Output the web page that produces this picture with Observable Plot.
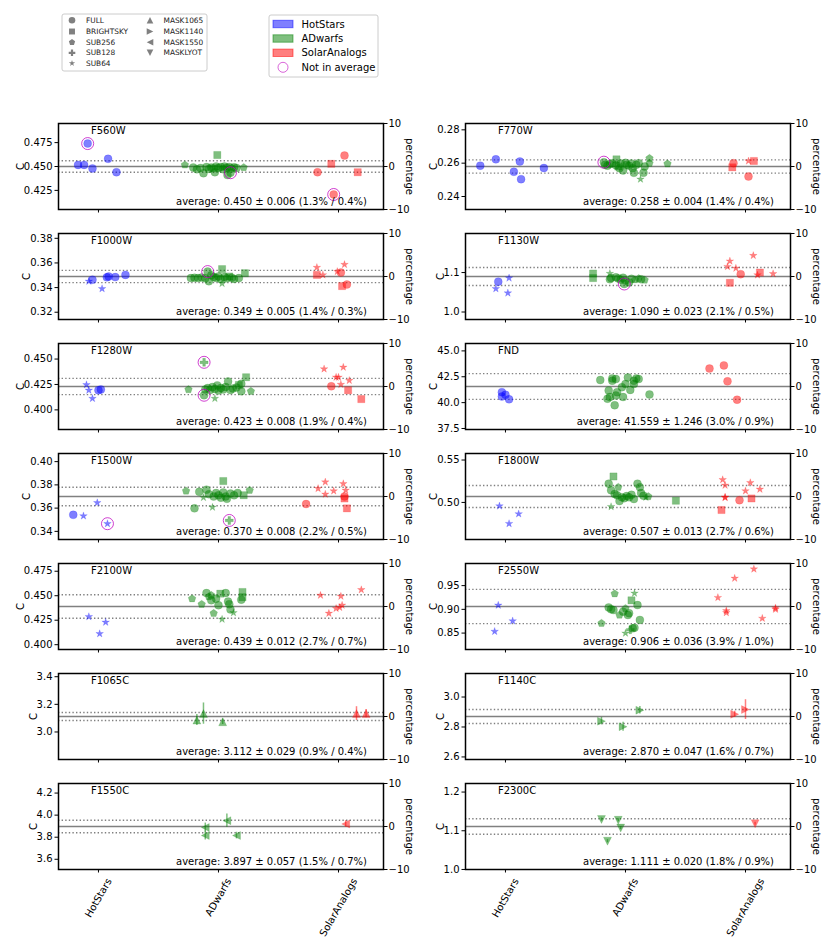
<!DOCTYPE html>
<html><head><meta charset="utf-8">
<script src="https://cdn.jsdelivr.net/npm/d3@7"></script>
<script src="https://cdn.jsdelivr.net/npm/@observablehq/plot@0.6"></script>
<style>
body{margin:0;background:#fff;}
#fig{position:relative;width:830px;height:949px;font-family:"DejaVu Sans";}
#fig svg{position:absolute;overflow:visible;}
</style></head><body><div id="fig"></div>
<script>
// ---------------- data ----------------
const categories = ["HotStars", "ADwarfs", "SolarAnalogs"];
const groupCodes = ["H", "A", "S"];
const groupColors = ["#0000ff", "#008000", "#ff0000"];
const markerCodes = ["o", "s", "p", "+", "*", "^", ">", "<", "v"];
const markerNames = ["FULL", "BRIGHTSKY", "SUB256", "SUB128", "SUB64", "MASK1065", "MASK1140", "MASK1550", "MASKLYOT"];
const filters = ["F560W","F770W","F1000W","F1130W","F1280W","FND","F1500W","F1800W","F2100W","F2550W","F1065C","F1140C","F1550C","F2300C"];
const averages = [0.450,0.258,0.349,1.090,0.423,41.559,0.370,0.507,0.439,0.906,3.112,2.870,3.897,1.111];
const stdevs   = [0.006,0.004,0.005,0.023,0.008,1.246,0.008,0.013,0.012,0.036,0.029,0.047,0.057,0.020];
const pctStd   = [1.3,1.4,1.4,2.1,1.9,3.0,2.2,2.7,2.7,3.9,0.9,1.6,1.5,1.8];
const pctUnc   = [0.4,0.4,0.3,0.5,0.4,0.9,0.5,0.6,0.7,1.0,0.4,0.7,0.7,0.9];
const yTickLabels = [
  ["0.425","0.450","0.475"], ["0.24","0.26","0.28"], ["0.32","0.34","0.36","0.38"], ["1.0","1.1"],
  ["0.400","0.425","0.450"], ["37.5","40.0","42.5","45.0"], ["0.34","0.36","0.38","0.40"], ["0.50","0.55"],
  ["0.400","0.425","0.450","0.475"], ["0.85","0.90","0.95"], ["3.0","3.2","3.4"], ["2.6","2.8","3.0"],
  ["3.6","3.8","4.0","4.2"], ["1.0","1.1","1.2"]
];
const pctTicks = [-10, 0, 10];
const legendNotInAvg = "Not in average";

// points: [group, offset from category, C, marker, excluded, error]
const pF560W = [
 ["H",-0.17,0.4517,"o"],["H",-0.12,0.4517,"o"],["H",-0.09,0.474,"o",1],["H",-0.05,0.448,"o"],["H",0.08,0.458,"o"],["H",0.15,0.444,"o"],
 ["A",-0.28,0.4517,"p"],["A",-0.21,0.4490,"o"],["A",-0.18,0.4470,"o"],["A",-0.15,0.4485,"o"],["A",-0.125,0.4430,"o"],["A",-0.1,0.4495,"o"],
 ["A",-0.08,0.4475,"o"],["A",-0.06,0.4490,"o"],["A",-0.04,0.4480,"s"],["A",-0.02,0.4500,"o"],["A",-0.01,0.4620,"s"],["A",0.0,0.4485,"o"],
 ["A",0.02,0.4495,"o"],["A",0.04,0.4470,"o"],["A",0.05,0.4500,"o"],["A",0.07,0.4488,"o"],["A",0.075,0.4410,"o"],["A",0.1,0.4435,"o",1],
 ["A",0.09,0.4495,"o"],["A",0.11,0.4480,"o"],["A",0.13,0.4492,"o"],["A",0.15,0.4485,"o"],["A",0.21,0.4490,"p"],["A",-0.03,0.4440,"o"],
 ["S",-0.175,0.444,"o"],["S",-0.06,0.4528,"s"],["S",0.05,0.4614,"o"],["S",-0.04,0.4207,"o",1],["S",0.16,0.444,"s"]
];
const pF770W = [
 ["H",-0.21,0.2585,"o"],["H",-0.08,0.2623,"o"],["H",0.07,0.2548,"o"],["H",0.12,0.2610,"o"],["H",0.13,0.2504,"o"],["H",0.32,0.2571,"o"],
 ["A",-0.18,0.2606,"o",1],["A",-0.17,0.2590,"o"],["A",-0.15,0.2585,"o"],["A",-0.13,0.2595,"o"],["A",-0.11,0.2600,"o"],["A",-0.075,0.2623,"s"],
 ["A",-0.08,0.2588,"o"],["A",-0.06,0.2580,"s"],["A",-0.04,0.2598,"o"],["A",-0.02,0.2556,"o"],["A",0.0,0.2602,"o"],["A",0.01,0.2590,"o"],
 ["A",0.03,0.2585,"o"],["A",0.05,0.2598,"o"],["A",0.06,0.2570,"o"],["A",0.07,0.2542,"o"],["A",0.09,0.2590,"o"],["A",0.11,0.2600,"o"],
 ["A",0.125,0.2504,"*"],["A",0.15,0.2542,"o"],["A",0.16,0.2580,"o"],["A",0.2,0.2629,"p"],["A",0.2,0.2600,"p"],["A",0.35,0.2596,"p"],["A",-0.05,0.2570,"o"],
 ["S",-0.11,0.2575,"s"],["S",-0.1,0.2600,"o"],["S",0.025,0.2520,"o"],["S",0.025,0.2613,"*"],["S",0.07,0.2613,"s"]
];
const pF1000W = [
 ["H",-0.08,0.3451,"*"],["H",-0.05,0.3464,"o"],["H",0.03,0.3391,"*"],["H",0.07,0.3483,"o"],["H",0.085,0.3490,"o"],["H",0.14,0.3485,"o"],["H",0.225,0.3503,"o"],
 ["A",-0.23,0.3477,"o"],["A",-0.2,0.3480,"o"],["A",-0.17,0.3477,"o"],["A",-0.14,0.3482,"o"],["A",-0.11,0.3475,"o"],["A",-0.09,0.3530,"o",1],
 ["A",-0.08,0.3451,"o"],["A",-0.06,0.3500,"o"],["A",-0.04,0.3485,"o"],["A",-0.02,0.3478,"o"],["A",0.0,0.3490,"o"],["A",0.02,0.3470,"o"],
 ["A",0.03,0.3550,"s"],["A",0.03,0.3433,"*"],["A",0.05,0.3485,"o"],["A",0.07,0.3475,"o"],["A",0.09,0.3490,"s"],["A",0.11,0.3480,"o"],
 ["A",0.13,0.3470,"o"],["A",0.17,0.3477,"o"],["A",0.22,0.3517,"s"],
 ["S",-0.18,0.3563,"*"],["S",-0.18,0.3503,"s"],["S",-0.13,0.3503,"*"],["S",0.02,0.3522,"o"],["S",-0.01,0.3530,"*"],["S",0.05,0.3587,"*"],["S",0.03,0.3412,"s"],["S",0.07,0.3425,"o"]
];
const pF1130W = [
 ["H",-0.06,1.077,"o"],["H",-0.08,1.059,"*"],["H",0.02,1.048,"*"],["H",0.03,1.086,"*"],
 ["A",-0.27,1.0975,"s"],["A",-0.27,1.086,"s"],["A",-0.13,1.0975,"*"],["A",-0.13,1.083,"o"],["A",-0.12,1.086,"o"],["A",-0.08,1.088,"o"],
 ["A",-0.06,1.085,"o"],["A",-0.04,1.082,"o"],["A",-0.02,1.087,"o"],["A",-0.01,1.071,"o",1],["A",0.0,1.080,"o"],["A",0.03,1.075,"o"],
 ["A",0.05,1.084,"o"],["A",0.08,1.082,"p"],["A",0.11,1.085,"p"],["A",0.13,1.083,"o"],["A",0.16,1.081,"p"],
 ["S",-0.15,1.115,"*"],["S",-0.13,1.129,"*"],["S",-0.08,1.111,"*"],["S",-0.13,1.074,"s"],["S",-0.04,1.096,"o"],["S",0.065,1.143,"*"],
 ["S",0.12,1.100,"s"],["S",0.1,1.094,"*"],["S",0.23,1.097,"*"]
];
const pF1280W = [
 ["H",-0.1,0.4247,"*"],["H",-0.08,0.4193,"*"],["H",-0.05,0.4112,"*"],["H",0.0,0.4193,"o"],["H",0.02,0.4200,"o"],
 ["A",-0.25,0.4200,"p"],["A",-0.12,0.4468,"+",1],["A",-0.12,0.4144,"o",1],["A",-0.11,0.4200,"o"],["A",-0.09,0.4215,"o"],["A",-0.07,0.4195,"o"],
 ["A",-0.05,0.4225,"o"],["A",-0.03,0.4112,"*"],["A",-0.03,0.4205,"o"],["A",-0.01,0.4240,"o"],["A",0.0,0.4190,"o"],["A",0.02,0.4215,"o"],
 ["A",0.04,0.4200,"o"],["A",0.06,0.4225,"o"],["A",0.08,0.4280,"o"],["A",0.1,0.4195,"o"],["A",0.12,0.4210,"o"],["A",0.15,0.4220,"o"],
 ["A",0.17,0.4245,"s"],["A",0.19,0.4256,"o"],["A",0.19,0.4183,"o"],["A",0.23,0.4321,"s"],["A",0.27,0.4183,"p"],
 ["S",-0.12,0.4403,"*"],["S",-0.06,0.4232,"o"],["S",-0.02,0.4321,"*"],["S",0.0,0.4321,"*"],["S",0.04,0.4419,"*"],["S",0.02,0.4250,"*"],
 ["S",0.09,0.4289,"*"],["S",0.08,0.4193,"s"],["S",0.19,0.4106,"s"]
];
const pFND = [
 ["H",-0.03,41.01,"o"],["H",-0.03,40.60,"o"],["H",0.0,40.76,"o"],["H",0.03,40.32,"o"],
 ["A",-0.21,42.18,"o"],["A",-0.15,40.38,"o"],["A",-0.14,41.17,"o"],["A",-0.13,40.54,"o"],["A",-0.11,42.34,"o"],["A",-0.11,42.12,"o"],
 ["A",-0.09,39.75,"o"],["A",-0.08,40.70,"o"],["A",-0.07,41.01,"o"],["A",-0.03,41.49,"o"],["A",-0.02,40.54,"o"],["A",0.0,41.80,"o"],
 ["A",0.02,42.43,"o"],["A",0.04,41.23,"o"],["A",0.07,42.12,"o"],["A",0.09,42.34,"o"],["A",0.11,42.28,"o"],["A",0.2,40.79,"o"],
 ["A",-0.08,42.28,"o"],["A",0.07,41.80,"o"],
 ["S",-0.3,43.29,"o"],["S",-0.18,43.60,"o"],["S",-0.15,42.06,"o"],["S",-0.07,40.28,"o"]
];
const pF1500W = [
 ["H",-0.21,0.3542,"o"],["H",-0.125,0.3533,"*"],["H",-0.01,0.3646,"*"],["H",0.075,0.3466,"*",1],
 ["A",-0.27,0.3748,"p"],["A",-0.2,0.3598,"o"],["A",-0.16,0.3740,"o"],["A",-0.125,0.3691,"*"],["A",-0.1,0.3759,"o"],["A",-0.08,0.3720,"o"],
 ["A",-0.05,0.3607,"*"],["A",-0.04,0.3700,"o"],["A",-0.02,0.3730,"o"],["A",0.0,0.3710,"o"],["A",0.02,0.3690,"o"],["A",0.04,0.3833,"s"],
 ["A",0.04,0.3735,"o"],["A",0.06,0.3700,"o"],["A",0.07,0.3680,"o"],["A",0.09,0.3494,"+",1],["A",0.1,0.3725,"o"],["A",0.13,0.3710,"o"],
 ["A",0.16,0.3730,"o"],["A",0.21,0.3711,"s"],["A",0.26,0.3754,"p"],
 ["S",-0.27,0.3635,"o"],["S",-0.17,0.3768,"*"],["S",-0.11,0.3824,"*"],["S",-0.11,0.3720,"*"],["S",-0.04,0.3748,"*"],["S",0.04,0.3810,"*"],
 ["S",0.06,0.3754,"*"],["S",0.05,0.3683,"s"],["S",0.07,0.3598,"s"],["S",0.05,0.3700,"o"]
];
const pF1800W = [
 ["H",-0.05,0.4958,"*"],["H",0.03,0.4750,"*"],["H",0.11,0.4865,"*"],
 ["A",-0.14,0.5221,"o"],["A",-0.12,0.4950,"*"],["A",-0.12,0.5144,"o"],["A",-0.1,0.5306,"s"],["A",-0.09,0.5100,"o"],["A",-0.07,0.5085,"o"],
 ["A",-0.06,0.5180,"p"],["A",-0.05,0.5016,"o"],["A",-0.03,0.5060,"o"],["A",-0.01,0.5050,"o"],["A",0.01,0.5075,"o"],["A",0.03,0.5060,"o"],
 ["A",0.05,0.5090,"o"],["A",0.07,0.5040,"o"],["A",0.1,0.5221,"o"],["A",0.12,0.5180,"o"],["A",0.13,0.5110,"o"],["A",0.15,0.5080,"o"],
 ["A",0.17,0.5060,"*"],["A",0.19,0.5070,"p"],["A",0.42,0.5020,"s"],
 ["S",-0.19,0.5268,"*"],["S",-0.17,0.5202,"*"],["S",-0.2,0.4911,"s"],["S",-0.17,0.5058,"*"],["S",-0.17,0.5060,"*"],["S",-0.05,0.5027,"o"],
 ["S",0.0,0.5136,"*"],["S",0.04,0.5233,"*"],["S",0.05,0.5047,"s"],["S",0.12,0.5155,"*"]
];
const pF2100W = [
 ["H",-0.08,0.4286,"*"],["H",0.01,0.4112,"*"],["H",0.06,0.4229,"*"],
 ["A",-0.22,0.4470,"p"],["A",-0.14,0.4413,"p"],["A",-0.1,0.4527,"o"],["A",-0.08,0.4490,"p"],["A",-0.06,0.4504,"p"],["A",-0.06,0.4454,"o"],
 ["A",-0.04,0.4320,"p"],["A",-0.02,0.4470,"o"],["A",0.0,0.4403,"o"],["A",0.015,0.4521,"s"],["A",0.03,0.4259,"*"],["A",0.06,0.4527,"o"],
 ["A",0.08,0.4440,"o"],["A",0.09,0.4413,"o"],["A",0.1,0.4360,"o"],["A",0.125,0.4326,"*"],["A",0.19,0.4460,"o"],["A",0.2,0.4538,"s"],["A",0.2,0.4485,"s"],
 ["S",-0.15,0.4504,"*"],["S",-0.08,0.4320,"*"],["S",-0.02,0.4370,"*"],["S",0.01,0.4380,"*"],["S",0.02,0.4494,"*"],["S",0.03,0.4403,"*"],["S",0.19,0.4561,"*"]
];
const pF2550W = [
 ["H",-0.09,0.8535,"*"],["H",-0.06,0.9087,"*"],["H",0.06,0.8756,"*"],
 ["A",-0.2,0.8707,"p"],["A",-0.14,0.9040,"o"],["A",-0.12,0.9000,"o"],["A",-0.1,0.8984,"o"],["A",-0.09,0.9330,"p"],["A",-0.05,0.8880,"p"],
 ["A",-0.02,0.8950,"o"],["A",0.0,0.8498,"*"],["A",0.0,0.9020,"p"],["A",0.02,0.8880,"o"],["A",0.04,0.8570,"+"],["A",0.05,0.9190,"s"],
 ["A",0.06,0.8600,"o"],["A",0.075,0.9340,"*"],["A",0.075,0.8610,"o"],["A",0.1,0.9090,"o"],["A",0.12,0.8777,"o"],["A",0.03,0.8920,"o"],
 ["S",-0.23,0.9247,"*"],["S",-0.09,0.9654,"*"],["S",-0.16,0.8970,"*"],["S",-0.16,0.8930,"*"],["S",0.07,0.9848,"*"],["S",0.14,0.8810,"*"],
 ["S",0.25,0.9000,"*"],["S",0.25,0.9030,"*"]
];
const pF1065C = [
 ["A",-0.18,3.086,"^",0,0.040],["A",-0.125,3.133,"^",0,0.077],["A",0.035,3.074,"^",0,0.020],
 ["S",0.15,3.133,"^",0,0.050],["S",0.23,3.133,"^",0,0.030]
];
const pF1140C = [
 ["A",-0.2,2.839,">",0,0.025],["A",-0.02,2.802,">",0,0.030],["A",0.12,2.912,">",0,0.025],
 ["S",-0.09,2.885,">",0,0.020],["S",0.0,2.916,">",0,0.066]
];
const pF1550C = [
 ["A",-0.11,3.888,"<",0,0.040],["A",-0.11,3.815,"<",0,0.040],["A",0.07,3.950,"<",0,0.060],["A",0.15,3.815,"<",0,0.030],
 ["S",0.06,3.920,"<",0,0.030]
];
const pF2300C = [
 ["A",-0.2,1.129,"v",0,0.004],["A",-0.15,1.073,"v",0,0.004],["A",-0.06,1.127,"v",0,0.004],["A",-0.04,1.107,"v",0,0.004],
 ["S",0.08,1.118,"v",0,0.004]
];
const panelPoints = [pF560W,pF770W,pF1000W,pF1130W,pF1280W,pFND,pF1500W,pF1800W,pF2100W,pF2550W,pF1065C,pF1140C,pF1550C,pF2300C];

// ---------------- symbols ----------------
function poly(pts) {
  return {draw(ctx, size) {
    const h = Math.sqrt(size / Math.PI);
    pts.forEach(([a, b], i) => i ? ctx.lineTo(a * h, b * h) : ctx.moveTo(a * h, b * h));
    ctx.closePath();
  }};
}
function regular(n, inner) {
  const pts = [];
  const m = inner ? 2 * n : n;
  for (let i = 0; i < m; i++) {
    const t = -Math.PI / 2 + i * Math.PI * 2 / m;
    const rr = inner && (i % 2) ? inner : 1;
    pts.push([rr * Math.cos(t), rr * Math.sin(t)]);
  }
  return pts;
}
const q = 1 / 3;
const SYM = {
  "o": "circle",
  "s": poly([[-0.9,-0.9],[0.9,-0.9],[0.9,0.9],[-0.9,0.9]]),
  "p": poly(regular(5)),
  "+": poly([[-q,-1],[q,-1],[q,-q],[1,-q],[1,q],[q,q],[q,1],[-q,1],[-q,q],[-1,q],[-1,-q],[-q,-q]]),
  "*": poly(regular(5, 0.381966)),
  "^": poly([[0,-1],[1,1],[-1,1]]),
  ">": poly([[1,0],[-1,-1],[-1,1]]),
  "<": poly([[-1,0],[1,-1],[1,1]]),
  "v": poly([[0,1],[1,-1],[-1,-1]])
};

// ---------------- helpers ----------------
const mctx = document.createElement("canvas").getContext("2d");
mctx.font = "10px 'DejaVu Sans'";
const tw = s => mctx.measureText(s).width;
const fig = document.getElementById("fig");
const ringColor = "#c000c0";

// ---------------- panels ----------------
filters.forEach((name, i) => {
  const row = Math.floor(i / 2), col = i % 2;
  const bottomRow = row === 6;
  const avg = averages[i], sd = stdevs[i];
  const lo = avg * 0.9, hi = avg * 1.1;
  const rows = panelPoints[i].map(([g, dx, c, m, ex, err]) => ({g, x: groupCodes.indexOf(g) + dx, c, m, ex: !!ex, err: err || 0}));
  const labels = yTickLabels[i];
  const maxW = d3.max(labels, tw);
  const H = bottomRow ? 200 : 110;
  const marks = [
    Plot.ruleY([avg], {stroke: "#808080", strokeWidth: 1.6}),
    Plot.ruleY([avg - sd, avg + sd], {stroke: "#808080", strokeWidth: 1.4, strokeDasharray: "1.4,2.2"})
  ];
  groupCodes.forEach((g, gi) => {
    const er = rows.filter(d => d.g === g && d.err > 0);
    if (er.length) marks.push(Plot.ruleX(er, {x: "x", y1: d => d.c - d.err, y2: d => d.c + d.err, stroke: groupColors[gi], strokeOpacity: 0.5, strokeWidth: 1.5}));
    markerCodes.forEach(mk => {
      const sub = rows.filter(d => d.g === g && d.m === mk);
      if (sub.length) marks.push(Plot.dot(sub, {x: "x", y: "c", r: 4, symbol: SYM[mk], fill: groupColors[gi], fillOpacity: 0.5, stroke: groupColors[gi], strokeOpacity: 0.25, strokeWidth: 0.6}));
    });
  });
  const exr = rows.filter(d => d.ex);
  if (exr.length) marks.push(Plot.dot(exr, {x: "x", y: "c", r: 6, fill: "none", stroke: ringColor, strokeOpacity: 0.75, strokeWidth: 1}));
  marks.push(
    Plot.frame({stroke: "black", strokeWidth: 1.5}),
    Plot.axisY({anchor: "left", ticks: labels.map(Number), tickFormat: d => labels.find(l => Math.abs(+l - d) < 1e-9), tickSize: 3.5, tickPadding: 2.5, label: null}),
    Plot.axisY({anchor: "right", ticks: pctTicks.map(p => avg * (1 + p / 100)), tickFormat: d => { const v = Math.round((d / avg - 1) * 100); return v < 0 ? "\u2212" + Math.abs(v) : String(v); }, tickSize: 3.5, tickPadding: 1.5, label: null}),
    Plot.axisX({ticks: [0, 1, 2], tickFormat: () => "", tickSize: 3.5, label: null}),
    Plot.text([name], {text: d => d, frameAnchor: "top-left", dx: 32.5, dy: 10.3, lineAnchor: "bottom", textAnchor: "start"}),
    Plot.text([`average: ${avg.toFixed(3)} \u00b1 ${sd.toFixed(3)} (${pctStd[i].toFixed(1)}% / ${pctUnc[i].toFixed(1)}%)`], {text: d => d, frameAnchor: "bottom-right", dx: -16.5, dy: -4.6, lineAnchor: "bottom", textAnchor: "end"}),
    Plot.text(["C"], {text: d => d, frameAnchor: "left", rotate: -90, dx: -(7 + maxW + 2), lineAnchor: "middle", textAnchor: "middle"}),
    Plot.text(["percentage"], {text: d => d, frameAnchor: "right", rotate: 90, dx: 25.5, lineAnchor: "middle", textAnchor: "middle"})
  );
  if (bottomRow) {
    categories.forEach((cat, k) => {
      const L = tw(cat);
      marks.push(Plot.text([cat], {text: d => d, x: () => k, frameAnchor: "bottom", rotate: -60, textAnchor: "middle", lineAnchor: "middle", dy: 7.5 + (L * 0.866 + 9 * 0.5) / 2}));
    });
  }
  const svg = Plot.plot({
    width: 423, height: H,
    marginLeft: 58, marginRight: 40, marginTop: 10, marginBottom: H - 96,
    x: {domain: [-0.333, 2.375]},
    y: {domain: [lo, hi]},
    style: {fontFamily: "DejaVu Sans", fontSize: "10px", background: "transparent", overflow: "visible", color: "black"},
    marks
  });
  svg.style.left = (col ? 407 : 0) + "px";
  svg.style.top = (113 + row * 110) + "px";
  fig.appendChild(svg);
});

// ---------------- legends ----------------
const leg = d3.select(fig).append("svg").attr("width", 830).attr("height", 100).style("left", "0px").style("top", "0px")
  .style("font-family", "DejaVu Sans");
leg.append("rect").attr("x", 62).attr("y", 14).attr("width", 145).attr("height", 57).attr("rx", 2)
  .attr("fill", "white").attr("stroke", "#cccccc").attr("stroke-width", 1);
const legY = [20.3, 31.5, 42.3, 52.8, 63.3];
markerCodes.forEach((mk, j) => {
  const c2 = j >= 5;
  const y = legY[c2 ? j - 5 : j];
  const mx = c2 ? 150 : 72, lx = c2 ? 163.5 : 86;
  const type = mk === "o" ? d3.symbolCircle : SYM[mk];
  leg.append("path").attr("d", d3.symbol(type, Math.PI * 3.3 * 3.3)()).attr("transform", `translate(${mx},${y})`).attr("fill", "#808080");
  leg.append("text").attr("x", lx).attr("y", y).attr("dominant-baseline", "central").attr("font-size", 7.4).attr("fill", "#222").text(markerNames[j]);
});
leg.append("rect").attr("x", 269).attr("y", 15).attr("width", 109).attr("height", 62).attr("rx", 2)
  .attr("fill", "white").attr("stroke", "#cccccc").attr("stroke-width", 1);
const leg2Y = [24, 38.5, 52.8, 67.3];
categories.forEach((cat, k) => {
  leg.append("rect").attr("x", 273).attr("y", leg2Y[k] - 3.7).attr("width", 20).attr("height", 7.4)
    .attr("fill", groupColors[k]).attr("fill-opacity", 0.5).attr("stroke", groupColors[k]).attr("stroke-opacity", 0.5);
  leg.append("text").attr("x", 301.5).attr("y", leg2Y[k]).attr("dominant-baseline", "central").attr("font-size", 10).text(cat);
});
leg.append("circle").attr("cx", 283).attr("cy", leg2Y[3]).attr("r", 5).attr("fill", "none").attr("stroke", ringColor).attr("stroke-opacity", 0.6);
leg.append("text").attr("x", 301.5).attr("y", leg2Y[3]).attr("dominant-baseline", "central").attr("font-size", 10).text(legendNotInAvg);
</script></body></html>
